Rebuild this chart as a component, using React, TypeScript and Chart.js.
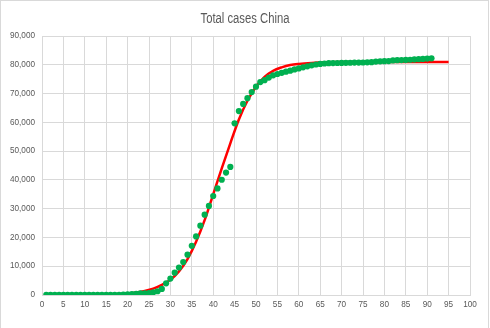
import React, { useEffect, useRef } from "react";
import { Chart, registerables } from "chart.js";

Chart.register(...registerables);

const TITLE = "Total cases China";

// Observed cumulative cases, day 1 .. day 91
const actualCases = [
  27, 27, 27, 44, 44, 59, 59, 59, 59, 41,
  41, 41, 41, 41, 41, 41, 45, 62, 121, 198,
  291, 440, 530, 600, 700, 950, 1300, 2100, 4050, 5700,
  7750, 9550, 11450, 14000, 17100, 20350, 24100, 27900, 30950, 34400,
  37050, 40050, 42550, 44500, 59650, 63900, 66400, 68400, 70500, 72400,
  74000, 74650, 75550, 76350, 76800, 77200, 77600, 77950, 78400, 78750,
  79100, 79450, 79800, 80100, 80300, 80450, 80550, 80600, 80620, 80650,
  80680, 80700, 80750, 80780, 80800, 80850, 80900, 81100, 81200, 81250,
  81300, 81500, 81600, 81650, 81700, 81750, 81850, 81950, 82050, 82150,
  82250,
];

// Fitted model curve (red line)
const modelDays = [1, 5, 10, 15, 18, 20, 22, 24, 26, 28, 30, 32, 34, 36, 38, 40, 42, 44, 46, 48, 50, 52, 54, 56, 58, 60, 63, 66, 70, 75, 80, 85, 90, 95];
const modelCases = [0, 10, 40, 120, 300, 560, 900, 1400, 2200, 3500, 5300, 8200, 12500, 18500, 26000, 35000, 44000, 52700, 61000, 67500, 72400, 75800, 77900, 79100, 79900, 80300, 80650, 80850, 80950, 81000, 81000, 81000, 81000, 81000];

const X_MIN = 0;
const X_MAX = 100;
const X_STEP = 5;
const Y_MIN = 0;
const Y_MAX = 90000;
const Y_STEP = 10000;

const TEXT_COLOR = "#595959";
const GRID_COLOR = "#d9d9d9";
const TICK_FONT = "'Liberation Sans', Arial, sans-serif";
const TITLE_FONT = "'Liberation Sans', Arial, sans-serif";

const framePlugin = {
  id: "frame",
  afterDraw(chart: any) {
    const ctx = chart.ctx;
    ctx.save();
    ctx.strokeStyle = GRID_COLOR;
    ctx.lineWidth = 1;
    ctx.strokeRect(0.5, 0.5, 488, 332);
    ctx.fillStyle = TEXT_COLOR;
    ctx.font = `14px ${TITLE_FONT}`;
    ctx.textAlign = "center";
    ctx.textBaseline = "alphabetic";
    const w = ctx.measureText(TITLE).width;
    const sx = Math.min(1, 89 / w);
    ctx.translate(245, 23);
    ctx.scale(sx, 1);
    ctx.fillText(TITLE, 0, 0);
    ctx.restore();
  },
};

export default function App() {
  const ref = useRef<HTMLCanvasElement>(null);
  useEffect(() => {
    const chart = new Chart(ref.current!, {
      type: "scatter",
      data: {
        datasets: [
          {
            label: "Total cases",
            data: actualCases.map((y, i) => ({ x: i + 1, y })),
            backgroundColor: "#00b050",
            borderColor: "#00b050",
            pointRadius: 3.1,
            pointBorderWidth: 0,
            showLine: false,
          },
          {
            label: "Model",
            data: modelDays.map((x, i) => ({ x, y: modelCases[i] })),
            showLine: true,
            borderColor: "#ff0000",
            borderWidth: 2.5,
            pointRadius: 0,
            cubicInterpolationMode: "monotone",
            fill: false,
          } as any,
        ],
      },
      options: {
        animation: false,
        responsive: false,
        layout: { padding: { left: 0, right: 20, top: 36, bottom: 13 } },
        plugins: {
          legend: { display: false },
          title: { display: false },
          tooltip: { enabled: false },
        },
        scales: {
          x: {
            type: "linear",
            min: X_MIN,
            max: X_MAX,
            ticks: {
              stepSize: X_STEP,
              color: TEXT_COLOR,
              font: { family: TICK_FONT, size: 8.2 },
              padding: 5,
              maxRotation: 0,
              autoSkip: false,
            },
            grid: { color: GRID_COLOR, lineWidth: 1, drawTicks: false },
            border: { color: GRID_COLOR },
            afterFit: (s: any) => {
              s.height = 20;
            },
          },
          y: {
            min: Y_MIN,
            max: Y_MAX,
            ticks: {
              stepSize: Y_STEP,
              color: TEXT_COLOR,
              font: { family: TICK_FONT, size: 8.2 },
              padding: 7,
              callback: (v: any) => Number(v).toLocaleString("en-US"),
            },
            grid: { color: GRID_COLOR, lineWidth: 1, drawTicks: false },
            border: { color: GRID_COLOR },
            afterFit: (s: any) => {
              s.width = 42;
            },
          },
        },
      },
      plugins: [framePlugin],
    });
    return () => chart.destroy();
  }, []);
  return (
    <div style={{ position: "fixed", left: 0, top: 0, width: 490, height: 328, background: "#fff" }}>
      <canvas ref={ref} width={490} height={328} style={{ display: "block", width: 490, height: 328 }} />
    </div>
  );
}
